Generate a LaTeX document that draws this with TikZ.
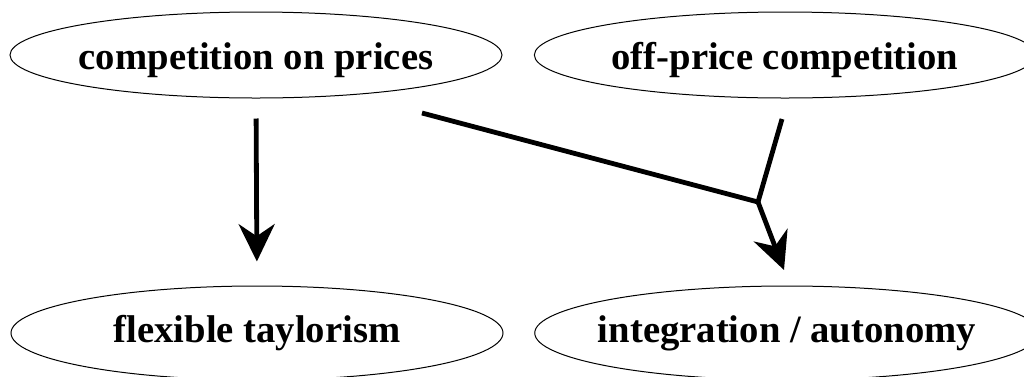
\documentclass[tikz,border=0pt]{standalone}
\usepackage{fontspec}
\setmainfont{Liberation Serif}
\usepackage{tikz}
\usetikzlibrary{shapes.geometric, arrows.meta}
\tikzstyle{state} = [ellipse, draw, line width=0.75pt, minimum width=369pt, minimum height=64.5pt, inner xsep=-8pt, font=\bfseries\fontsize{29}{34}\selectfont]
\tikzstyle{line} = [line width=3.6pt]
\tikzstyle{arrow} = [line width=3.6pt, -{Stealth[length=28pt, width=27pt, inset=9pt]}]

\begin{document}
\begin{tikzpicture}[x=0.75pt, y=-0.75pt]
  \useasboundingbox (0,0) rectangle (1024,376);
  \node (prices) [state, text height=28pt] at (256,55) {competition on prices};
  \node (offprice) [state, minimum width=376pt, text height=28pt] at (785,55) {off-price competition};
  \node (taylor) [state, minimum height=70.5pt] at (257,333) {flexible taylorism};
  \node (autonomy) [state, minimum width=376pt, minimum height=70.5pt] at (787,333) {integration / autonomy};

  \coordinate (pstart) at (422,113);
  \coordinate (ostart) at (782,119);
  \coordinate (join) at (758,202);
  \coordinate (tip) at (784,270);

  \draw [arrow, shorten <=15pt, shorten >=18pt] (prices.south) -- (taylor.north);
  \draw [line] (pstart) -- (join);
  \draw [line] (ostart) -- (join);
  \draw [arrow] (join) -- (tip);
\end{tikzpicture}
\end{document}
